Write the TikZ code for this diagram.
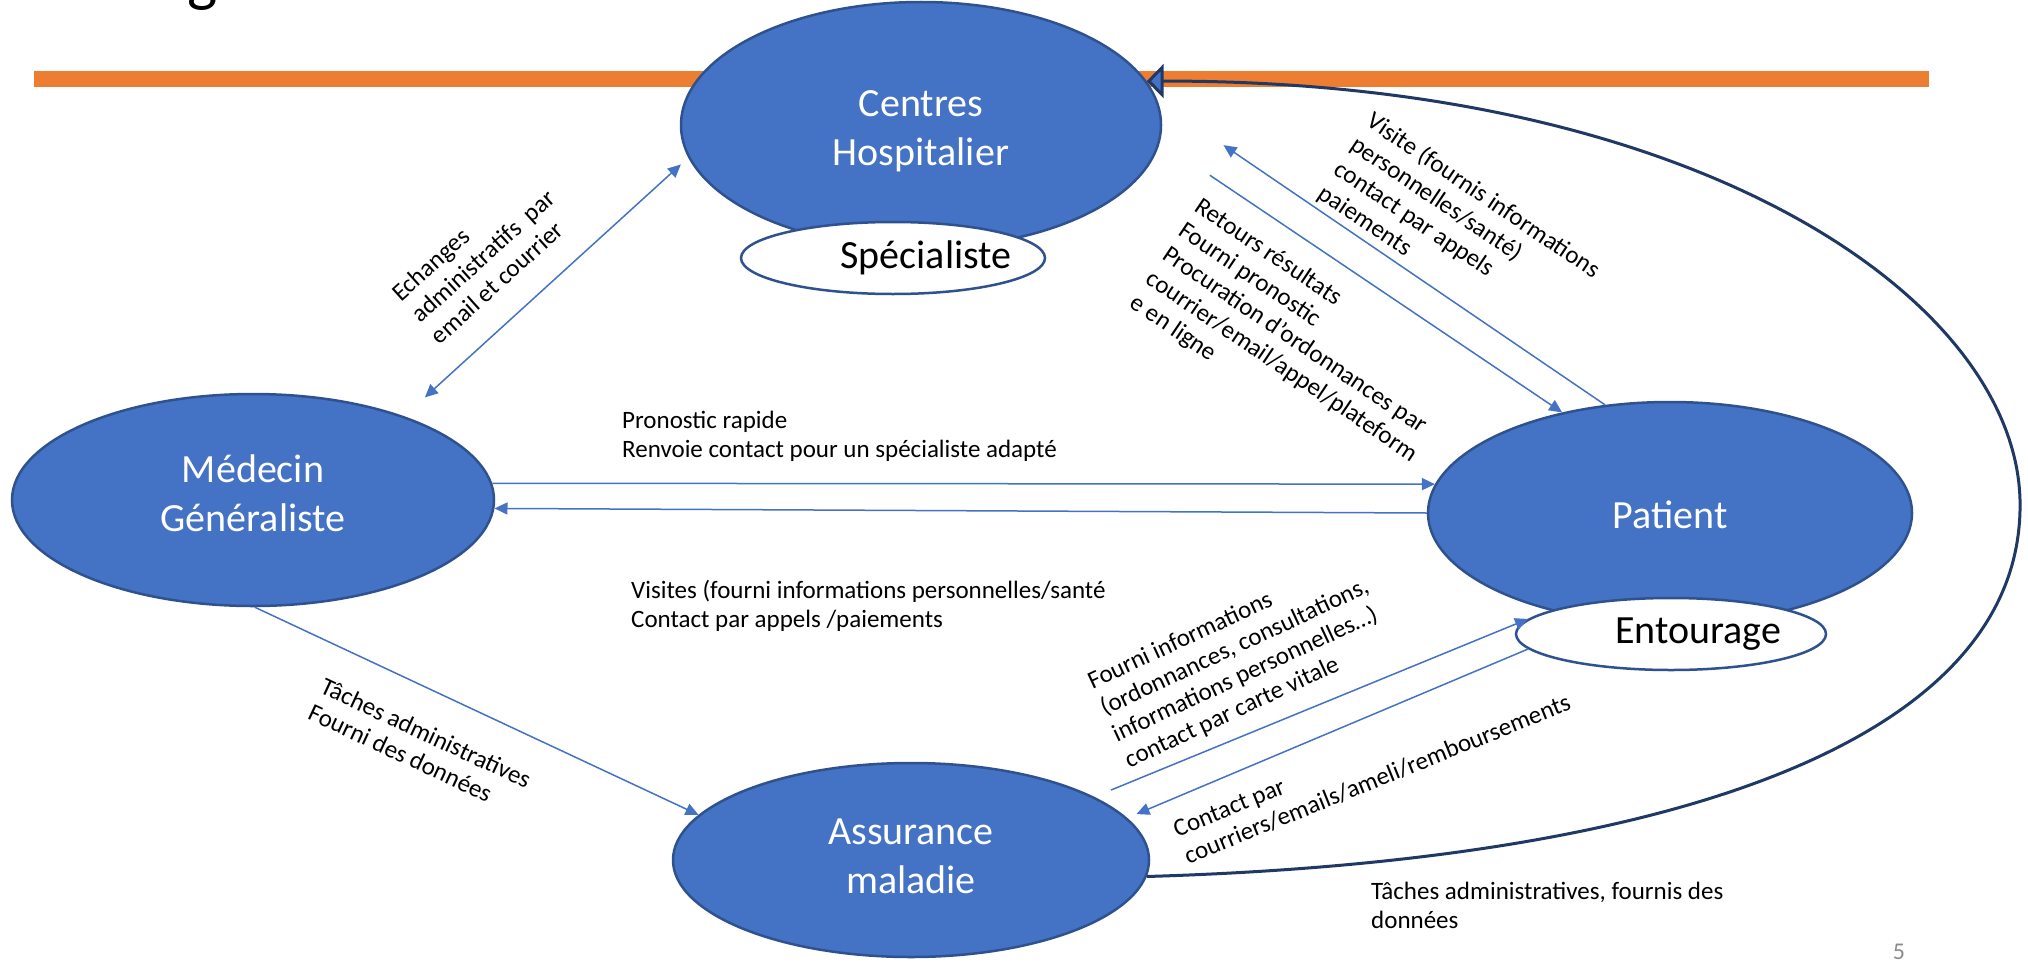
\documentclass[tikz,border=0pt]{standalone}
\usepackage{fontspec}
\setmainfont{Carlito}
\usetikzlibrary{arrows.meta,shapes.geometric}
\definecolor{entblue}{HTML}{4472C4}
\definecolor{entline}{HTML}{2F528F}
\definecolor{loopnavy}{HTML}{1F3864}
\definecolor{barorange}{HTML}{ED7D31}
\definecolor{pagegray}{HTML}{8C8C8C}
\tikzset{
  acteur/.style={ellipse,draw=entline,line width=2.5pt,fill=entblue,inner sep=0pt},
  acteurtexte/.style={text=white,inner sep=0pt,align=center,font=\fontsize{40}{49}\selectfont},
  sousacteur/.style={ellipse,draw=entline,line width=2.5pt,fill=white,inner sep=0pt},
  soustexte/.style={font=\fontsize{40}{49}\selectfont,inner sep=0pt},
  flux/.style={draw=entblue,line width=1.5pt},
  retour/.style={draw=loopnavy,line width=3pt,-{Triangle[length=17pt,width=34pt,fill=entblue]}},
  legende/.style={font=\fontsize{25}{29}\selectfont,align=left,inner sep=0pt}
}
\begin{document}
\begin{tikzpicture}[x=1pt,y=-1pt,>={Triangle[length=13pt,width=12pt]}]
\useasboundingbox (0,0) rectangle (2028,966);
\fill[white] (0,0) rectangle (2028,966);
\fill[barorange] (34,71) rectangle (1929,87);
\node[font=\fontsize{64}{77}\selectfont,anchor=base] (titre) at (203,0) {g};

\node[acteur,minimum width=480pt,minimum height=246pt,label={[acteurtexte,yshift=-6pt]center:Centres\\Hospitalier}] (ch) at (921,125) {};
\node[sousacteur,minimum width=304pt,minimum height=72pt,label={[soustexte,xshift=33pt]center:Spécialiste}] (spe) at (893,258) {};
\node[acteur,minimum width=482pt,minimum height=212pt,label={[acteurtexte,yshift=7pt]center:Médecin\\Généraliste}] (med) at (253,500) {};
\node[acteur,minimum width=484pt,minimum height=222pt,label={[acteurtexte,yshift=-2pt]center:Patient}] (pat) at (1670,513) {};
\node[sousacteur,minimum width=310pt,minimum height=72pt,label={[soustexte,xshift=27pt]center:Entourage}] (ent) at (1671,634) {};
\node[acteur,minimum width=476pt,minimum height=194pt,label={[acteurtexte,yshift=4pt]center:Assurance\\maladie}] (ass) at (911,860) {};

  \draw[flux,<->,shorten <=28pt,shorten >=10pt] (med.29) -- (ch.188);
  \draw[flux,->] (med.4) -- (pat.173);
  \draw[flux,->] (pat.180) -- (med.-2);
  \draw[flux,->,shorten <=60pt] (ch.-4) -- (pat.137);
  \draw[flux,->,shorten >=80pt] (pat.121) -- (ch.6);
  \draw[flux,->] (med.-89) -- (ass.168);
  \draw[flux,->,shorten <=18pt] (ass.19) -- (ent.174);
  \draw[flux,->,shorten >=10pt] (ent.186) -- (ass.11);
\draw[retour] (ass.-4) .. controls (1700,860) and (2025,730) .. (2020,500) .. controls (2015,300) and (1700,80) .. (ch.11);

\node[legende,rotate=42] (lech) at (483,256) {Echanges\\administratifs~ par\\email et courrier};
\node[legende,rotate=-34] (lvis) at (1459,232) {Visite (fournis informations\\personnelles/santé)\\contact par appels\\paiements};
\node[legende,rotate=-34] (lret) at (1298,343) {Retours résultats\\Fourni pronostic\\Procuration d'ordonnances par\\courrier/email/appel/plateform\\e en ligne};
\node[legende,anchor=north west] (lpro) at (622,411) {Pronostic rapide\\Renvoie contact pour un spécialiste adapté};
\node[legende,anchor=north west] (lvst) at (631,580) {Visites (fourni informations personnelles/santé\\Contact par appels /paiements};
\node[legende,rotate=-25] (ltac) at (420,746) {Tâches administratives\\Fourni des données};
\node[legende,rotate=25] (lfou) at (1241,661) {Fourni informations\\(ordonnances, consultations,\\informations personnelles…)\\contact par carte vitale};
\node[legende,rotate=22] (lcon) at (1372,766) {Contact par\\courriers/emails/ameli/remboursements};
\node[legende,anchor=north west] (lada) at (1371,882) {Tâches administratives, fournis des\\données};
\node[font=\fontsize{24}{29}\selectfont,text=pagegray] (page) at (1899,952) {5};
\end{tikzpicture}
\end{document}
